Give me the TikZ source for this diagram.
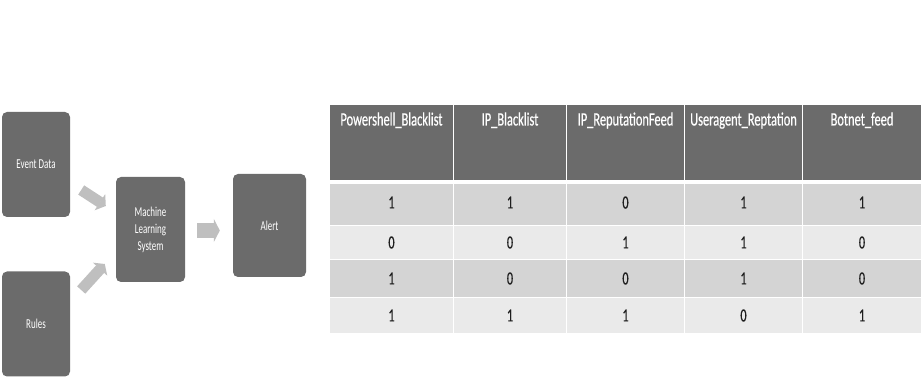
\documentclass[tikz,border=0pt]{standalone}
\usepackage{fontspec}
\setmainfont{Carlito}[FakeStretch=0.66]
\newfontfamily\cellfont{Carlito}[FakeStretch=0.66, FakeBold=0.45]
\usetikzlibrary{arrows.meta}
\definecolor{boxfill}{HTML}{6B6B6B}
\definecolor{headfill}{HTML}{6B6B6B}
\definecolor{flowfill}{HTML}{BFBFBF}
\definecolor{rowdark}{HTML}{D4D4D4}
\definecolor{rowlight}{HTML}{EAEAEA}
\definecolor{numink}{HTML}{1E1E1E}

\begin{document}
\begin{tikzpicture}[
  x=1pt, y=1pt,
  stage/.style={
    fill=boxfill,
    rounded corners=5pt,
    text=white,
    align=center,
    inner sep=0pt,
    font=\fontsize{13.6}{17}\selectfont,
    minimum width=68pt,
    minimum height=105pt
  },
  flow/.style={draw=flowfill, line width=15pt, -{Triangle[length=6pt,width=23pt]}},
  sideflow/.style={draw=flowfill, line width=11pt, -{Triangle[length=7pt,width=19pt]}},
  headcell/.style={
    fill=headfill,
    draw=white,
    line width=1pt,
    text=white,
    inner sep=0pt,
    anchor=north west,
    font=\cellfont\fontsize{18.8}{20}\selectfont,
    minimum height=76pt,
    text height=21pt,
    text depth=55pt
  },
  cell/.style={
    draw=white,
    line width=1pt,
    text=numink,
    inner sep=0pt,
    anchor=north west,
    font=\cellfont\fontsize{18.5}{20}\selectfont
  },
  darkrow/.style={cell, fill=rowdark},
  lightrow/.style={cell, fill=rowlight}
]
\useasboundingbox (0,0) rectangle (923,385);

% Pipeline
\node[stage] (event) at (36,220.5) {Event Data};
\node[stage] (rules) at (36,61) {Rules};
\node[stage, minimum width=69pt] (mls) at (150.5,155.5) {Machine\\Learning\\System};
\node[stage, minimum width=73pt, minimum height=103pt] (alert) at (269.5,159.5) {Alert};

\draw[sideflow] ([shift={(11,-25.5)}]event.east) -- ([shift={(-10,23.5)}]mls.west);
\draw[sideflow] ([shift={(11,34)}]rules.east) -- ([shift={(-11,-34.5)}]mls.west);
\draw[flow] ([shift={(12,-1)}]mls.east) -- ([shift={(-13,-5)}]alert.west);

% Feature table
\node[headcell, minimum width=124pt] (h1) at (329,281) {Powershell\_Blacklist};
\node[headcell, minimum width=113pt] (h2) at (453,281) {IP\_Blacklist};
\node[headcell, minimum width=118pt] (h3) at (566,281) {IP\_ReputationFeed};
\node[headcell, minimum width=118pt] (h4) at (684,281) {Useragent\_Reptation};
\node[headcell, minimum width=119pt] (h5) at (802,281) {Botnet\_feed};

\foreach \x/\w/\a/\b/\c/\d [count=\i] in {329/124/1/0/1/1, 453/113/1/0/0/1, 566/118/0/1/0/1, 684/118/1/1/1/0, 802/119/1/0/0/1}{
  \node[darkrow, minimum width=\w, minimum height=42, text depth=4pt] (r1c\i) at (\x,202) {\a};
  \node[lightrow, minimum width=\w, minimum height=34] (r2c\i) at (\x,160) {\b};
  \node[darkrow, minimum width=\w, minimum height=38] (r3c\i) at (\x,126) {\c};
  \node[lightrow, minimum width=\w, minimum height=36] (r4c\i) at (\x,88) {\d};
}

\end{tikzpicture}
\end{document}
